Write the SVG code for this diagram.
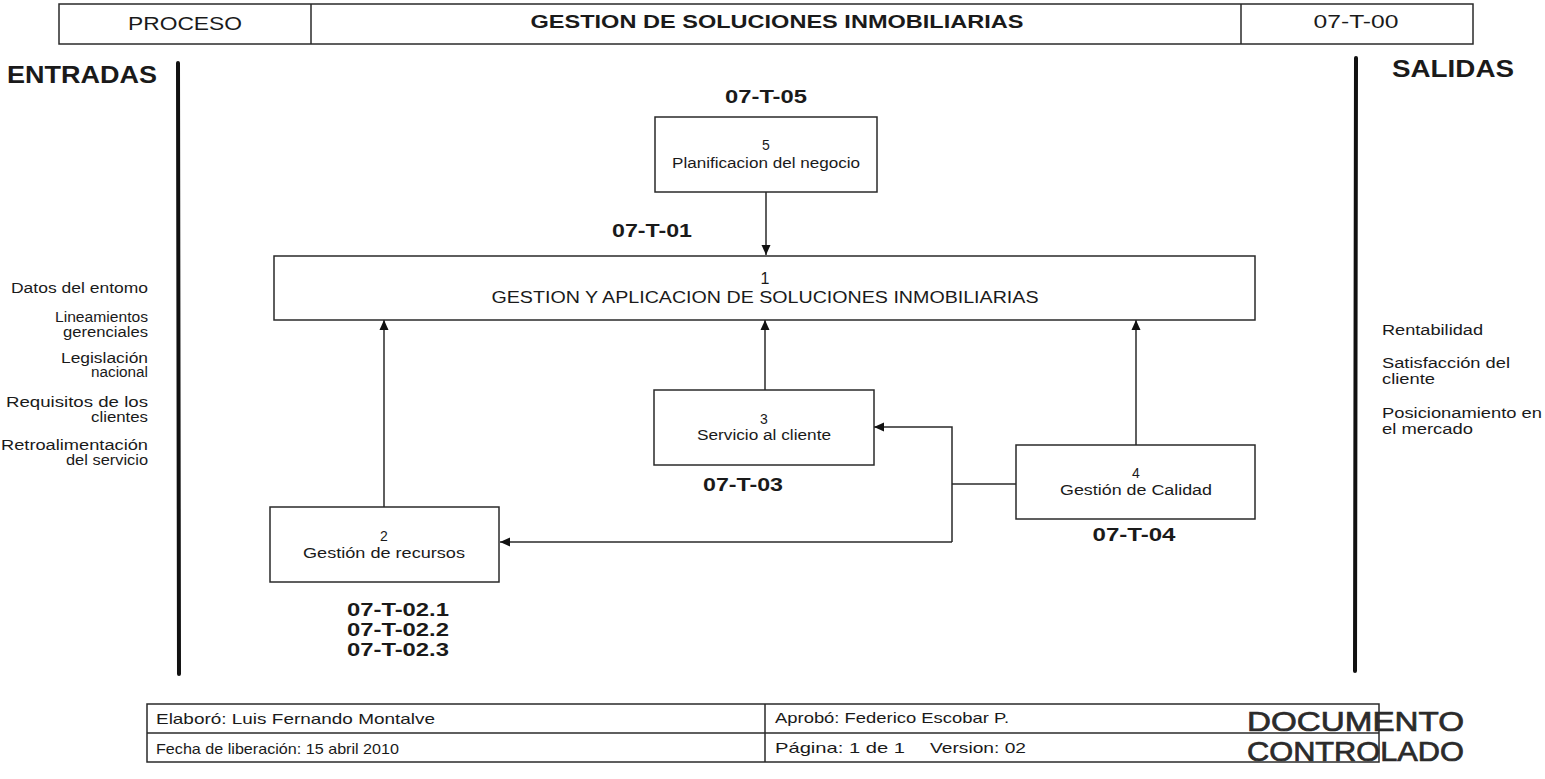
<svg xmlns="http://www.w3.org/2000/svg" width="1545" height="779" viewBox="0 0 1545 779">
<style>
text{font-family:"Liberation Sans",Arial,sans-serif;fill:#1a1a1a}
.hd{font-size:18px}
.hdb{font-size:18px;font-weight:bold}
.big{font-size:23px;font-weight:bold}
.side{font-size:14px}
.box{fill:#fff;stroke:#2a2a2a;stroke-width:1.5}
.bt{font-size:14px;text-anchor:middle}
.bt1{font-size:16px;text-anchor:middle}
.code{font-size:18px;font-weight:bold;text-anchor:middle}
.ft{font-size:15px}
.stamp{font-size:28px;fill:#2b2b2b;stroke:#2b2b2b;stroke-width:0.7}
.ln{stroke:#2a2a2a;stroke-width:1.5;fill:none}
.bar{stroke:#111;stroke-width:4;stroke-linecap:round}
.fr{fill:none;stroke:#2a2a2a;stroke-width:1.5}
</style>
<defs>
<marker id="ah" viewBox="0 0 10 10" refX="10" refY="5" markerWidth="10" markerHeight="10" markerUnits="userSpaceOnUse" orient="auto">
<path d="M0,0.5 L10,5 L0,9.5 Z" fill="#111"/>
</marker>
</defs>
<rect width="1545" height="779" fill="#fff"/>

<g id="header">
<rect class="fr" x="59" y="4" width="1414" height="40"/>
<line class="fr" x1="311" y1="4" x2="311" y2="44"/>
<line class="fr" x1="1241" y1="4" x2="1241" y2="44"/>
<text class="hd" x="185" y="30" text-anchor="middle" textLength="114" lengthAdjust="spacingAndGlyphs">PROCESO</text>
<text class="hdb" x="777" y="28" text-anchor="middle" textLength="493" lengthAdjust="spacingAndGlyphs">GESTION DE SOLUCIONES INMOBILIARIAS</text>
<text class="hd" x="1356" y="28" text-anchor="middle" textLength="85" lengthAdjust="spacingAndGlyphs">07-T-00</text>
</g>

<g id="entradas">
<text class="big" x="7" y="83" textLength="150" lengthAdjust="spacingAndGlyphs">ENTRADAS</text>
<line class="bar" x1="178" y1="63" x2="179" y2="674"/>
<g class="side" text-anchor="end">
<text x="148" y="293" textLength="137" lengthAdjust="spacingAndGlyphs">Datos del entomo</text>
<text x="148" y="322" textLength="93" lengthAdjust="spacingAndGlyphs">Lineamientos</text>
<text x="148" y="337" textLength="85" lengthAdjust="spacingAndGlyphs">gerenciales</text>
<text x="148" y="363" textLength="87" lengthAdjust="spacingAndGlyphs">Legislación</text>
<text x="148" y="377" textLength="57" lengthAdjust="spacingAndGlyphs">nacional</text>
<text x="148" y="407" textLength="142" lengthAdjust="spacingAndGlyphs">Requisitos de los</text>
<text x="148" y="422" textLength="57" lengthAdjust="spacingAndGlyphs">clientes</text>
<text x="148" y="450" textLength="147" lengthAdjust="spacingAndGlyphs">Retroalimentación</text>
<text x="148" y="465" textLength="82" lengthAdjust="spacingAndGlyphs">del servicio</text>
</g>
</g>

<g id="salidas">
<text class="big" x="1392" y="77" font-size="21" textLength="122" lengthAdjust="spacingAndGlyphs">SALIDAS</text>
<line class="bar" x1="1356" y1="58" x2="1355" y2="671"/>
<g class="side">
<text x="1382" y="335" textLength="101" lengthAdjust="spacingAndGlyphs">Rentabilidad</text>
<text x="1382" y="368" textLength="128" lengthAdjust="spacingAndGlyphs">Satisfacción del</text>
<text x="1382" y="384" textLength="53" lengthAdjust="spacingAndGlyphs">cliente</text>
<text x="1382" y="418" textLength="160" lengthAdjust="spacingAndGlyphs">Posicionamiento en</text>
<text x="1382" y="434" textLength="91" lengthAdjust="spacingAndGlyphs">el mercado</text>
</g>
</g>

<g id="connectors">
<line class="ln" x1="766" y1="192" x2="766" y2="255" marker-end="url(#ah)"/>
<line class="ln" x1="384" y1="507" x2="384" y2="320" marker-end="url(#ah)"/>
<line class="ln" x1="765" y1="390" x2="765" y2="320" marker-end="url(#ah)"/>
<line class="ln" x1="1136" y1="445" x2="1136" y2="320" marker-end="url(#ah)"/>
<polyline class="ln" points="1016,484 952,484"/>
<polyline class="ln" points="952,542 952,427 874,427" marker-end="url(#ah)"/>
<polyline class="ln" points="952,542 500,542" marker-end="url(#ah)"/>
</g>

<g id="node5">
<rect class="box" x="655" y="117" width="222" height="75"/>
<text class="bt" x="766" y="150">5</text>
<text class="bt" x="766" y="168" textLength="188" lengthAdjust="spacingAndGlyphs">Planificacion del negocio</text>
<text class="code" x="766" y="103" textLength="82" lengthAdjust="spacingAndGlyphs">07-T-05</text>
</g>

<g id="node1">
<rect class="box" x="274" y="256" width="981" height="64"/>
<text class="bt1" x="765" y="284">1</text>
<text class="bt1" x="765" y="303" textLength="547" lengthAdjust="spacingAndGlyphs">GESTION Y APLICACION DE SOLUCIONES INMOBILIARIAS</text>
<text class="code" x="652" y="237" textLength="80" lengthAdjust="spacingAndGlyphs">07-T-01</text>
</g>

<g id="node3">
<rect class="box" x="654" y="390" width="220" height="75"/>
<text class="bt" x="764" y="424">3</text>
<text class="bt" x="764" y="440" textLength="134" lengthAdjust="spacingAndGlyphs">Servicio al cliente</text>
<text class="code" x="743" y="491" textLength="80" lengthAdjust="spacingAndGlyphs">07-T-03</text>
</g>

<g id="node4">
<rect class="box" x="1016" y="445" width="239" height="74"/>
<text class="bt" x="1136" y="478">4</text>
<text class="bt" x="1136" y="495" textLength="152" lengthAdjust="spacingAndGlyphs">Gestión de Calidad</text>
<text class="code" x="1134" y="541" textLength="83" lengthAdjust="spacingAndGlyphs">07-T-04</text>
</g>

<g id="node2">
<rect class="box" x="270" y="507" width="229" height="75"/>
<text class="bt" x="384" y="541">2</text>
<text class="bt" x="384" y="558" textLength="162" lengthAdjust="spacingAndGlyphs">Gestión de recursos</text>
<text class="code" x="398" y="616" textLength="102" lengthAdjust="spacingAndGlyphs">07-T-02.1</text>
<text class="code" x="398" y="636" textLength="102" lengthAdjust="spacingAndGlyphs">07-T-02.2</text>
<text class="code" x="398" y="656" textLength="102" lengthAdjust="spacingAndGlyphs">07-T-02.3</text>
</g>

<g id="footer">
<rect class="fr" x="147" y="704" width="1232" height="58"/>
<line class="fr" x1="147" y1="733" x2="1379" y2="733"/>
<line class="fr" x1="765" y1="704" x2="765" y2="762"/>
<text class="ft" x="156" y="724" textLength="279" lengthAdjust="spacingAndGlyphs">Elaboró: Luis Fernando Montalve</text>
<text class="ft" x="156" y="754" textLength="243" lengthAdjust="spacingAndGlyphs">Fecha de liberación: 15 abril 2010</text>
<text class="ft" x="775" y="723" textLength="234" lengthAdjust="spacingAndGlyphs">Aprobó: Federico Escobar P.</text>
<text class="ft" x="775" y="753" textLength="130" lengthAdjust="spacingAndGlyphs">Página: 1 de 1</text>
<text class="ft" x="930" y="753" textLength="96" lengthAdjust="spacingAndGlyphs">Version: 02</text>
<text class="stamp" x="1247" y="731" textLength="217" lengthAdjust="spacingAndGlyphs">DOCUMENTO</text>
<text class="stamp" x="1247" y="761" textLength="217" lengthAdjust="spacingAndGlyphs">CONTROLADO</text>
</g>
</svg>
